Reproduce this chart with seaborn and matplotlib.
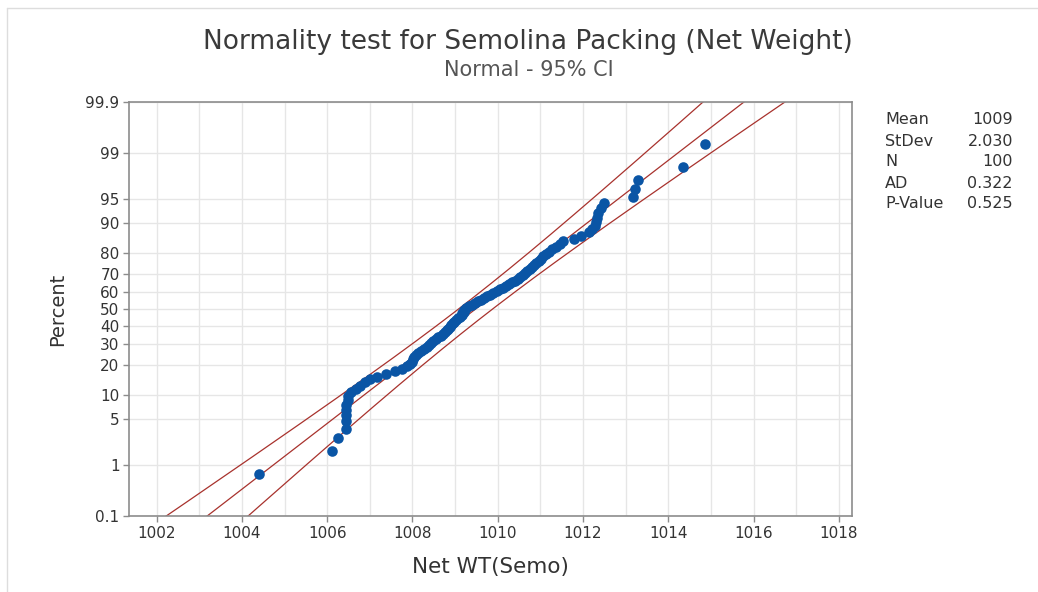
# Normal probability plot of the semolina net weights (Minitab style)
import numpy as np
import pandas as pd
import seaborn as sns
from matplotlib import pyplot as plt
from matplotlib.lines import Line2D
from matplotlib.ticker import FixedLocator, MultipleLocator
from statistics import NormalDist

# Net weight of each pack, sorted
net_wt = [
    1004.39, 1006.12, 1006.25, 1006.43, 1006.43, 1006.43, 1006.44, 1006.45, 1006.48, 1006.50,
    1006.57, 1006.67, 1006.76, 1006.88, 1007.00, 1007.16, 1007.37, 1007.58, 1007.75, 1007.87,
    1007.94, 1007.98, 1008.01, 1008.03, 1008.08, 1008.13, 1008.20, 1008.27, 1008.34, 1008.38,
    1008.43, 1008.49, 1008.55, 1008.61, 1008.67, 1008.71, 1008.76, 1008.81, 1008.84, 1008.88,
    1008.91, 1008.95, 1008.98, 1009.02, 1009.07, 1009.11, 1009.15, 1009.17, 1009.20, 1009.22,
    1009.25, 1009.32, 1009.40, 1009.47, 1009.54, 1009.61, 1009.68, 1009.75, 1009.82, 1009.89,
    1009.98, 1010.05, 1010.12, 1010.20, 1010.27, 1010.34, 1010.41, 1010.47, 1010.52, 1010.60,
    1010.64, 1010.69, 1010.75, 1010.81, 1010.86, 1010.90, 1010.96, 1011.02, 1011.07, 1011.14,
    1011.21, 1011.28, 1011.37, 1011.45, 1011.54, 1011.78, 1011.96, 1012.13, 1012.22, 1012.27,
    1012.30, 1012.33, 1012.36, 1012.43, 1012.50, 1013.18, 1013.23, 1013.30, 1014.35, 1014.86,
]

# y axis percent ticks and x axis ticks
pct_ticks = [0.1, 1, 5, 10, 20, 30, 40, 50, 60, 70, 80, 90, 95, 99, 99.9]
pct_tick_labels = ["0.1", "1", "5", "10", "20", "30", "40", "50", "60", "70", "80", "90", "95", "99", "99.9"]
x_ticks = [1002, 1004, 1006, 1008, 1010, 1012, 1014, 1016, 1018]

# Summary table shown at the right
stat_labels = ["Mean", "StDev", "N", "AD", "P-Value"]
stat_values = ["1009", "2.030", "100", "0.322", "0.525"]

POINT_BLUE = "#0a55a5"
LINE_RED = "#a8322d"
GRID = "#e6e6e6"
SPINE = "#8c8c8c"

nd = NormalDist()


def pct_to_z(p):
    """Forward function of the probability scale (percent -> z)"""
    p = np.clip(np.asarray(p, dtype=float), 1e-6, 100 - 1e-6)
    return np.vectorize(lambda v: nd.inv_cdf(v / 100.0), otypes=[float])(p)


def z_to_pct(z):
    """Inverse function of the probability scale (z -> percent)"""
    z = np.asarray(z, dtype=float)
    return np.vectorize(lambda v: nd.cdf(v) * 100.0, otypes=[float])(z)


# Median rank plotting positions
n = len(net_wt)
ranks = np.arange(1, n + 1)
df = pd.DataFrame({"NetWT": net_wt, "Percent": (ranks - 0.3) / (n + 0.4) * 100})

# Fitted normal line with 95% confidence band
mean = np.mean(net_wt)
sd = np.std(net_wt, ddof=1)
z = np.linspace(-3.8, 3.8, 400)
fit_pct = z_to_pct(z)
fit_x = mean + z * sd
half = 1.96 * sd * np.sqrt((1 + z ** 2 / 2) / n)
fit_df = pd.DataFrame({"fit": fit_x, "lo": fit_x - half, "hi": fit_x + half, "pct": fit_pct})

sns.set_style("white")
plt.rcParams["font.family"] = ["DejaVu Sans"]

fig = plt.figure(figsize=(10.38, 5.92), dpi=100)
ax = fig.add_axes([129.3 / 1038, 1 - 516 / 592, (851.7 - 129.3) / 1038, (516 - 102) / 592])
ax.set_yscale("function", functions=(pct_to_z, z_to_pct))

for col in ["lo", "fit", "hi"]:
    sns.lineplot(data=fit_df, x=col, y="pct", sort=False, estimator=None,
                 color=LINE_RED, linewidth=0.9, ax=ax, zorder=2)

sns.scatterplot(data=df, x="NetWT", y="Percent", color=POINT_BLUE, s=58,
                linewidth=0, ax=ax, zorder=3)

ax.set_xlim(1001.36, 1018.3)
ax.set_ylim(0.1, 99.9)
ax.xaxis.set_major_locator(FixedLocator(x_ticks))
ax.xaxis.set_minor_locator(MultipleLocator(1))
ax.set_xticklabels([str(t) for t in x_ticks])
ax.yaxis.set_major_locator(FixedLocator(pct_ticks))
ax.yaxis.set_minor_locator(FixedLocator([]))
ax.set_yticklabels(pct_tick_labels)

ax.grid(True, which="both", color=GRID, linewidth=1.0)
ax.set_axisbelow(True)
ax.tick_params(axis="both", which="major", length=4, width=1, color=SPINE,
               labelsize=11, labelcolor="#333333", pad=3, direction="out",
               left=True, bottom=True)
ax.tick_params(axis="x", which="minor", length=0)
for s in ax.spines.values():
    s.set_color(SPINE)
    s.set_linewidth(1.2)

ax.set_xlabel("Net WT(Semo)", fontsize=15.5, color="#333333")
ax.set_ylabel("Percent", fontsize=14, color="#333333")
ax.xaxis.set_label_coords(0.5, -(567 - 516) / 414)
ax.xaxis.label.set_va("center")
ax.yaxis.set_label_coords((58 - 129.3) / 722.4, 0.5)
ax.yaxis.label.set_va("center")

# Titles
fig.text(528 / 1038, 1 - 42 / 592, "Normality test for Semolina Packing (Net Weight)",
         ha="center", va="center", fontsize=19, color="#3a3a3a")
fig.text(529 / 1038, 1 - 70 / 592, "Normal - 95% CI",
         ha="center", va="center", fontsize=15, color="#555555")

# Summary statistics
for i, (lab, val) in enumerate(zip(stat_labels, stat_values)):
    y = 1 - (120 + i * 21) / 592
    fig.text(885 / 1038, y, lab, ha="left", va="center", fontsize=11.5, color="#333333")
    fig.text(1013 / 1038, y, val, ha="right", va="center", fontsize=11.5, color="#333333")

# Light frame of the graph window (top and left edges only)
fig.add_artist(Line2D([7 / 1038, 1.0], [1 - 8 / 592, 1 - 8 / 592], transform=fig.transFigure,
                      color="#dddddd", linewidth=1.0))
fig.add_artist(Line2D([7 / 1038, 7 / 1038], [0.0, 1 - 8 / 592], transform=fig.transFigure,
                      color="#dddddd", linewidth=1.0))

fig.savefig("out.png", dpi=100)
